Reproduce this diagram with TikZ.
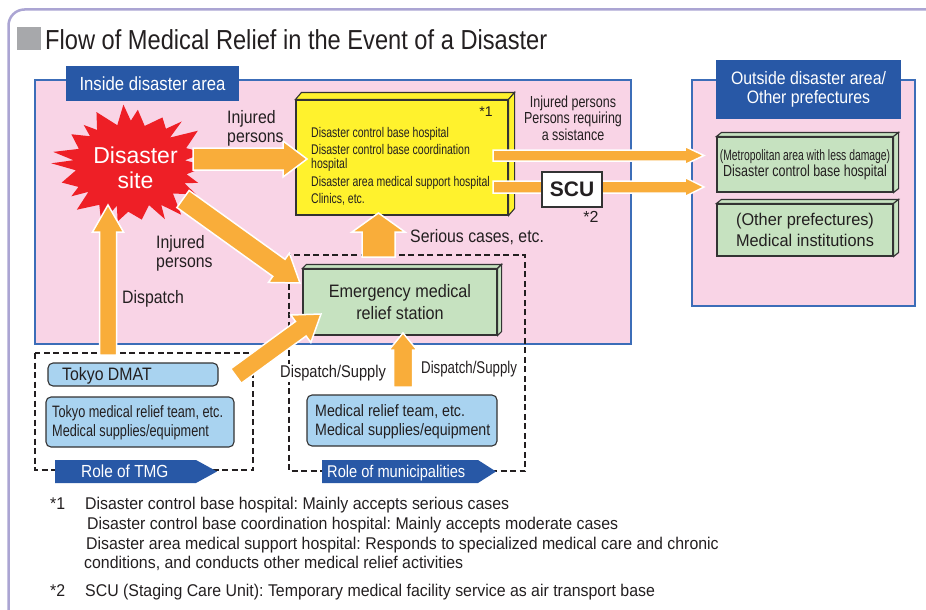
\documentclass[tikz,border=0pt]{standalone}
\usepackage{fontspec}
\setmainfont{Liberation Sans}
\newfontfamily\fTi[FakeStretch=0.86]{Liberation Sans}
\newfontfamily\fLb[FakeStretch=0.88]{Liberation Sans}
\newfontfamily\fYe[FakeStretch=0.75]{Liberation Sans}
\newfontfamily\fRi[FakeStretch=0.78]{Liberation Sans}
\newfontfamily\fMe[FakeStretch=0.69]{Liberation Sans}
\newfontfamily\fTo[FakeStretch=0.77]{Liberation Sans}
\newfontfamily\fMu[FakeStretch=0.86]{Liberation Sans}
\newfontfamily\fFn[FakeStretch=0.935]{Liberation Sans}
\newfontfamily\fOt[FakeStretch=0.96]{Liberation Sans}
\newfontfamily\fEm[FakeStretch=0.9]{Liberation Sans}
\usetikzlibrary{calc}
\frenchspacing
\definecolor{framec}{HTML}{ABA5D3}
\definecolor{titlegray}{HTML}{A7A8AB}
\definecolor{txtc}{HTML}{231F20}
\definecolor{pinkc}{HTML}{F9D4E6}
\definecolor{areablue}{HTML}{3C6DB8}
\definecolor{labblue}{HTML}{2858A6}
\definecolor{yellowc}{HTML}{FFF22D}
\definecolor{greenc}{HTML}{C6E2C0}
\definecolor{lblue}{HTML}{A9D3F0}
\definecolor{redc}{HTML}{EE1F26}
\definecolor{orangec}{HTML}{F9AD3A}
\definecolor{boxline}{HTML}{333333}
\newcommand\fsz[2]{\fontsize{#1}{#2}\selectfont}
\newcommand\blockarrow[5]{%
  \coordinate (bac) at ($(#2)!#5!(#1)$);
  \filldraw[barrow] ($(#1)!#3!90:(#2)$) -- ($(bac)!#3!90:(#2)$) -- ($(bac)!#4!90:(#2)$) -- (#2)
    -- ($(bac)!#4!-90:(#2)$) -- ($(bac)!#3!-90:(#2)$) -- ($(#1)!#3!-90:(#2)$) -- cycle;}
\newcommand\threed[3]{%
  \filldraw[#3] (#1.north west) -- ++(#2) -- ($(#1.north east)+(#2)$) -- (#1.north east) -- cycle;
  \filldraw[#3] (#1.north east) -- ++(#2) -- ($(#1.south east)+(#2)$) -- (#1.south east) -- cycle;}
\begin{document}
\begin{tikzpicture}[x=1pt,y=-1pt,
  txt/.style={inner sep=0pt, text=txtc},
  lab/.style={fill=labblue, text=white, inner sep=0pt},
  areab/.style={draw=areablue, line width=2pt, fill=pinkc},
  dashbox/.style={draw=txtc, line width=1.6pt, dash pattern=on 6pt off 3.5pt},
  barrow/.style={fill=orangec, draw=white, line width=1.5pt, line join=miter},
  lbox/.style={draw=boxline, fill=lblue, rounded corners=5pt, line width=1.1pt, inner sep=0pt},
  gbox/.style={draw=boxline, fill=greenc, line width=1.1pt, inner sep=0pt, text=txtc},
  ybox/.style={draw=boxline, fill=yellowc, line width=1.1pt, inner sep=0pt},
  declare function={brr(\i)=ifthenelse(mod(\i,2)==0,1+0.07*sin(\i*137),0.75+0.04*cos(\i*97)); bang(\i)=\i*360/44+3*sin(\i*71);}
]
\useasboundingbox (0,0) rectangle (926,610);
\clip (0,0) rectangle (926,610);
% outer frame
\draw[framec, line width=2.5pt, rounded corners=16pt] (8.5,9.5) rectangle (960,650);
\fill[titlegray] (17,27) rectangle (41,50);
\node[txt, anchor=base west, font=\fTi\fsz{27.5}{30}] (title) at (45,49) {Flow of Medical Relief in the Event of a Disaster};

% areas
\draw[areab] (35,80) rectangle (631,344);
\node[lab, minimum width=173, minimum height=35, font=\fLb\fsz{19}{20}] (inlab) at (152.5,83.5) {Inside disaster area};
\draw[areab] (692,80) rectangle (915,306);
\node[lab, minimum width=185, minimum height=59, align=center, font=\fLb\fsz{18}{19}] (outlab) at (808.5,89.5) {Outside disaster area/\\Other prefectures};

% dashed role boxes
\draw[dashbox] (35,353) rectangle (253,470);
\draw[dashbox] (289,255) rectangle (525,471);

% starburst
\fill[redc] plot[samples at={0,...,43}, variable=\i] ({131+76*brr(\i)*cos(bang(\i))},{166+58*brr(\i)*sin(bang(\i))}) -- cycle;
\node[inner sep=0pt, text=white, align=center, font=\fsz{23}{25}] (site) at (135.5,168) {Disaster\\site};

% yellow hospital box
\node[ybox, minimum width=212, minimum height=115] (yel) at (402,157.5) {};
\threed{yel}{6,-7}{ybox}
\node[txt, anchor=north west, align=left, font=\fYe\fsz{14}{17.5}] (yeltxt) at (311,127) {Disaster control base hospital\\Disaster control base coordination\\[-3.5pt]hospital\\Disaster area medical support hospital\\Clinics, etc.};
\node[txt, font=\fsz{14}{14}] (star1) at (486,112) {*1};

% emergency station
\node[gbox, minimum width=194, minimum height=66, align=center, font=\fEm\fsz{18}{22}] (ems) at (400,302) {Emergency medical\\relief station};
\threed{ems}{4,-4}{gbox}

% outside boxes
\node[gbox, minimum width=176, minimum height=55, align=center] (oh1) at (805,164.5) {{\fMe\fsz{15}{21}(Metropolitan area with less damage)}\\{\fRi\fsz{16}{21}Disaster control base hospital}};
\threed{oh1}{5,-4}{gbox}
\node[gbox, minimum width=176, minimum height=52, align=center, font=\fOt\fsz{17}{21}] (oh2) at (805,230) {(Other prefectures)\\Medical institutions};
\threed{oh2}{5,-4}{gbox}

% blue boxes
\node[lbox, minimum width=170, minimum height=23] (dmat) at (133,374.5) {};
\node[txt, anchor=base west, font=\fLb\fsz{18}{19}] (dmatt) at (62,380) {Tokyo DMAT};
\node[lbox, minimum width=188, minimum height=50] (tmed) at (140,422) {};
\node[txt, anchor=base west, align=left, font=\fTo\fsz{16.5}{19}] (tmedt) at (52,436) {Tokyo medical relief team, etc.\\Medical supplies/equipment};
\node[lbox, minimum width=190, minimum height=51] (mmed) at (402,420.5) {};
\node[txt, anchor=base west, align=left, font=\fMu\fsz{16.5}{19}] (mmedt) at (315,435) {Medical relief team, etc.\\Medical supplies/equipment};

% role labels
\fill[labblue] (55,460) -- (196,460) -- (217,471.5) -- (196,483) -- (55,483) -- cycle;
\node[txt, text=white, anchor=base west, font=\fLb\fsz{17.5}{18}] (roletmg) at (81,477) {Role of TMG};
\fill[labblue] (322,460) -- (478,460) -- (496,471.5) -- (478,483) -- (322,483) -- cycle;
\node[txt, text=white, anchor=base west, font=\fMu\fsz{17}{18}] (rolemun) at (327,477) {Role of municipalities};

% arrows
\coordinate (a1s) at (193,159); \coordinate (a1e) at (307,159);
\coordinate (a2s) at (183,199); \coordinate (a2e) at (300,283);
\coordinate (a3s) at (108,355); \coordinate (a3e) at (108,205);
\coordinate (a4s) at (236,376); \coordinate (a4e) at (321,314);
\coordinate (a5s) at (403,387); \coordinate (a5e) at (403,333);
\coordinate (a6s) at (378.5,257); \coordinate (a6e) at (378.5,213);
\coordinate (a7s) at (493,155.5); \coordinate (a7e) at (704,155.5);
\coordinate (a8s) at (493,187); \coordinate (a8e) at (704,187);
\blockarrow{a1s}{a1e}{11pt}{18pt}{24pt}
\blockarrow{a2s}{a2e}{10.5pt}{18pt}{26pt}
\blockarrow{a3s}{a3e}{8.5pt}{15.5pt}{27pt}
\blockarrow{a4s}{a4e}{9pt}{17pt}{25pt}
\blockarrow{a5s}{a5e}{9.5pt}{14pt}{17pt}
\blockarrow{a6s}{a6e}{16.5pt}{26.5pt}{19pt}
\blockarrow{a7s}{a7e}{5.5pt}{9pt}{19pt}
\blockarrow{a8s}{a8e}{6pt}{9.5pt}{19pt}

% SCU
\node[draw=boxline, fill=white, line width=1.2pt, minimum width=60, minimum height=35, inner sep=0pt, text=txtc, font=\bfseries\fsz{21}{21}] (scu) at (572,189.5) {SCU};
\node[txt, font=\fsz{16}{16}] (star2) at (591,217) {*2};

% labels (base = baseline of last line)
\node[txt, anchor=base west, align=left, font=\fLb\fsz{18}{19}] (lab1) at (227,142) {Injured\\persons};
\node[txt, anchor=base west, align=left, font=\fLb\fsz{18}{19}] (lab2) at (156,267) {Injured\\persons};
\node[txt, anchor=base west, font=\fLb\fsz{18}{19}] (lab3) at (122,303) {Dispatch};
\node[txt, anchor=base west, font=\fLb\fsz{18}{19}] (lab4) at (410,242) {Serious cases, etc.};
\node[txt, anchor=base, align=center, font=\fRi\fsz{16}{16.5}] (lab5) at (573,140) {Injured persons\\Persons requiring\\a ssistance};
\node[txt, anchor=base west, fill=white, inner sep=1pt, font=\fMu\fsz{17}{18}] (lab6) at (279,377) {Dispatch/Supply};
\node[txt, anchor=base west, font=\fRi\fsz{17}{18}] (lab7) at (421,373) {Dispatch/Supply};

% footnotes
\begin{scope}[every node/.style={txt, anchor=base west, font=\fFn\fsz{17}{18}}]
\node (fn1) at (50,509) {*1};
\node (fn1a) at (85,509) {Disaster control base hospital: Mainly accepts serious cases};
\node (fn1b) at (87,529) {Disaster control base coordination hospital: Mainly accepts moderate cases};
\node (fn1c) at (86,549) {Disaster area medical support hospital: Responds to specialized medical care and chronic};
\node (fn1d) at (84,568) {conditions, and conducts other medical relief activities};
\node (fn2) at (50,596) {*2};
\node (fn2a) at (85,596) {SCU (Staging Care Unit): Temporary medical facility service as air transport base};
\end{scope}
\end{tikzpicture}
\end{document}
